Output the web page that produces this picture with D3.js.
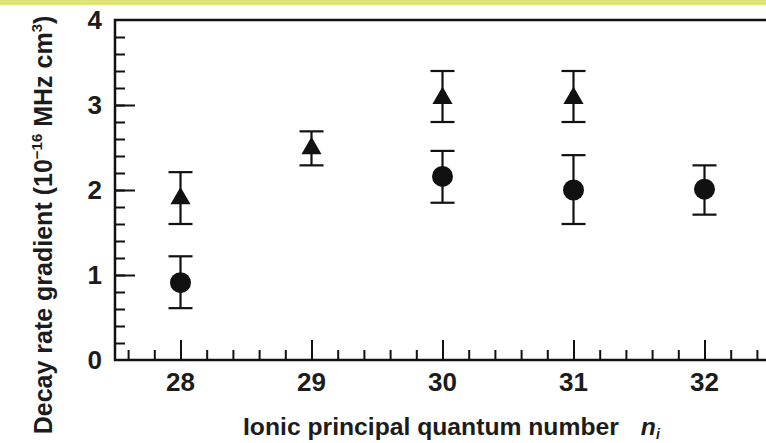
<!DOCTYPE html>
<html>
<head>
<meta charset="utf-8">
<script src="https://cdn.jsdelivr.net/npm/d3@7"></script>
<style>
    body { margin: 0; background: #fff; }
    text { font-family: "Liberation Sans", Arial, Helvetica, sans-serif; font-weight: bold; fill: #1c1c1c; }
</style>
</head>
<body>
<script>
// data
var nValues = [28, 29, 30, 31, 32];
var xTickLabels = ["28", "29", "30", "31", "32"];
var yTickLabels = ["0", "1", "2", "3", "4"];
// triangles
var triN = [28, 29, 30, 31];
var triVal = [1.9, 2.49, 3.08, 3.08];
var triLow = [1.6, 2.29, 2.8, 2.8];
var triHigh = [2.21, 2.69, 3.4, 3.4];
// circles
var cirN = [28, 30, 31, 32];
var cirVal = [0.91, 2.16, 2.0, 2.01];
var cirLow = [0.61, 1.85, 1.6, 1.71];
var cirHigh = [1.22, 2.46, 2.41, 2.29];

var width = 766;
var height = 443;
var svg = d3.select("body").append("svg").attr("width", width).attr("height", height);

// yellow strip on top
svg.append("rect").attr("x", 0).attr("y", 0).attr("width", width).attr("height", 5).style("fill", "#dfe476");

var x = d3.scaleLinear().domain([27.5, 32.5]).range([115, 770]);
var y = d3.scaleLinear().domain([0, 4]).range([360, 20]);

// ticks, pointing inwards
var xAxisMinor = d3.axisTop(x).tickValues(d3.range(27.6, 32.5, 0.2)).tickSize(10).tickFormat("");
var xAxisMajor = d3.axisTop(x).tickValues(nValues).tickSize(20).tickFormat("");
var yAxisMinor = d3.axisRight(y).tickValues(d3.range(0.2, 4, 0.2)).tickSize(10).tickFormat("");
var yAxisMajor = d3.axisRight(y).tickValues([1, 2, 3]).tickSize(20).tickFormat("");

[xAxisMinor, xAxisMajor].forEach(function (ax) {
    svg.append("g").attr("transform", "translate(0,360)").call(ax)
        .call(function (g) { g.select(".domain").remove(); })
        .selectAll("line").style("stroke", "#111").style("stroke-width", 2);
});
[yAxisMinor, yAxisMajor].forEach(function (ax) {
    svg.append("g").attr("transform", "translate(115,0)").call(ax)
        .call(function (g) { g.select(".domain").remove(); })
        .selectAll("line").style("stroke", "#111").style("stroke-width", 2);
});

// frame
svg.append("path")
    .attr("d", "M" + x(32.5) + "," + y(0) + "H" + x(27.5) + "V" + y(4) + "H" + x(32.5))
    .style("fill", "none").style("stroke", "#111").style("stroke-width", 2.5);

// tick labels
svg.selectAll("text.xl").data(nValues).enter().append("text").classed("xl", true)
    .attr("x", function (d) { return x(d); })
    .attr("y", 391)
    .attr("text-anchor", "middle")
    .style("font-size", "26px")
    .text(function (d, i) { return xTickLabels[i]; });
svg.selectAll("text.yl").data([0, 1, 2, 3, 4]).enter().append("text").classed("yl", true)
    .attr("x", 102)
    .attr("y", function (d) { return y(d) + 9; })
    .attr("text-anchor", "end")
    .style("font-size", "26px")
    .text(function (d, i) { return yTickLabels[i]; });

// error bars
function errorBars(ns, lows, highs) {
    var g = svg.append("g").style("stroke", "#111").style("stroke-width", 2.2);
    ns.forEach(function (n, i) {
        var cx = x(n);
        g.append("line").attr("x1", cx).attr("x2", cx).attr("y1", y(lows[i])).attr("y2", y(highs[i]));
        g.append("line").attr("x1", cx - 12).attr("x2", cx + 12).attr("y1", y(lows[i])).attr("y2", y(lows[i]));
        g.append("line").attr("x1", cx - 12).attr("x2", cx + 12).attr("y1", y(highs[i])).attr("y2", y(highs[i]));
    });
}
errorBars(triN, triLow, triHigh);
errorBars(cirN, cirLow, cirHigh);

// markers
svg.selectAll("path.tri").data(triVal).enter().append("path").classed("tri", true)
    .attr("d", d3.symbol().type(d3.symbolTriangle).size(175))
    .attr("transform", function (d, i) { return "translate(" + x(triN[i]) + "," + y(d) + ")"; })
    .style("fill", "#111");
svg.selectAll("circle.cir").data(cirVal).enter().append("circle").classed("cir", true)
    .attr("cx", function (d, i) { return x(cirN[i]); })
    .attr("cy", function (d) { return y(d); })
    .attr("r", 10.5)
    .style("fill", "#111");

// axis titles
var xt = svg.append("text").attr("x", 243).attr("y", 435).style("font-size", "24.7px");
xt.append("tspan").text("Ionic principal quantum number");
xt.append("tspan").attr("dx", 22).style("font-style", "italic").text("n");
xt.append("tspan").attr("dy", 4).style("font-size", "14px").style("font-style", "italic").text("i");

var yt = svg.append("text")
    .attr("transform", "translate(52,225) rotate(-90)")
    .attr("text-anchor", "middle")
    .style("font-size", "25px");
yt.append("tspan").text("Decay rate gradient (10");
yt.append("tspan").attr("dy", -10).style("font-size", "15px").text("−16");
yt.append("tspan").attr("dy", 10).text(" MHz cm");
yt.append("tspan").attr("dy", -10).style("font-size", "15px").text("3");
yt.append("tspan").attr("dy", 10).text(")");
</script>
</body>
</html>
